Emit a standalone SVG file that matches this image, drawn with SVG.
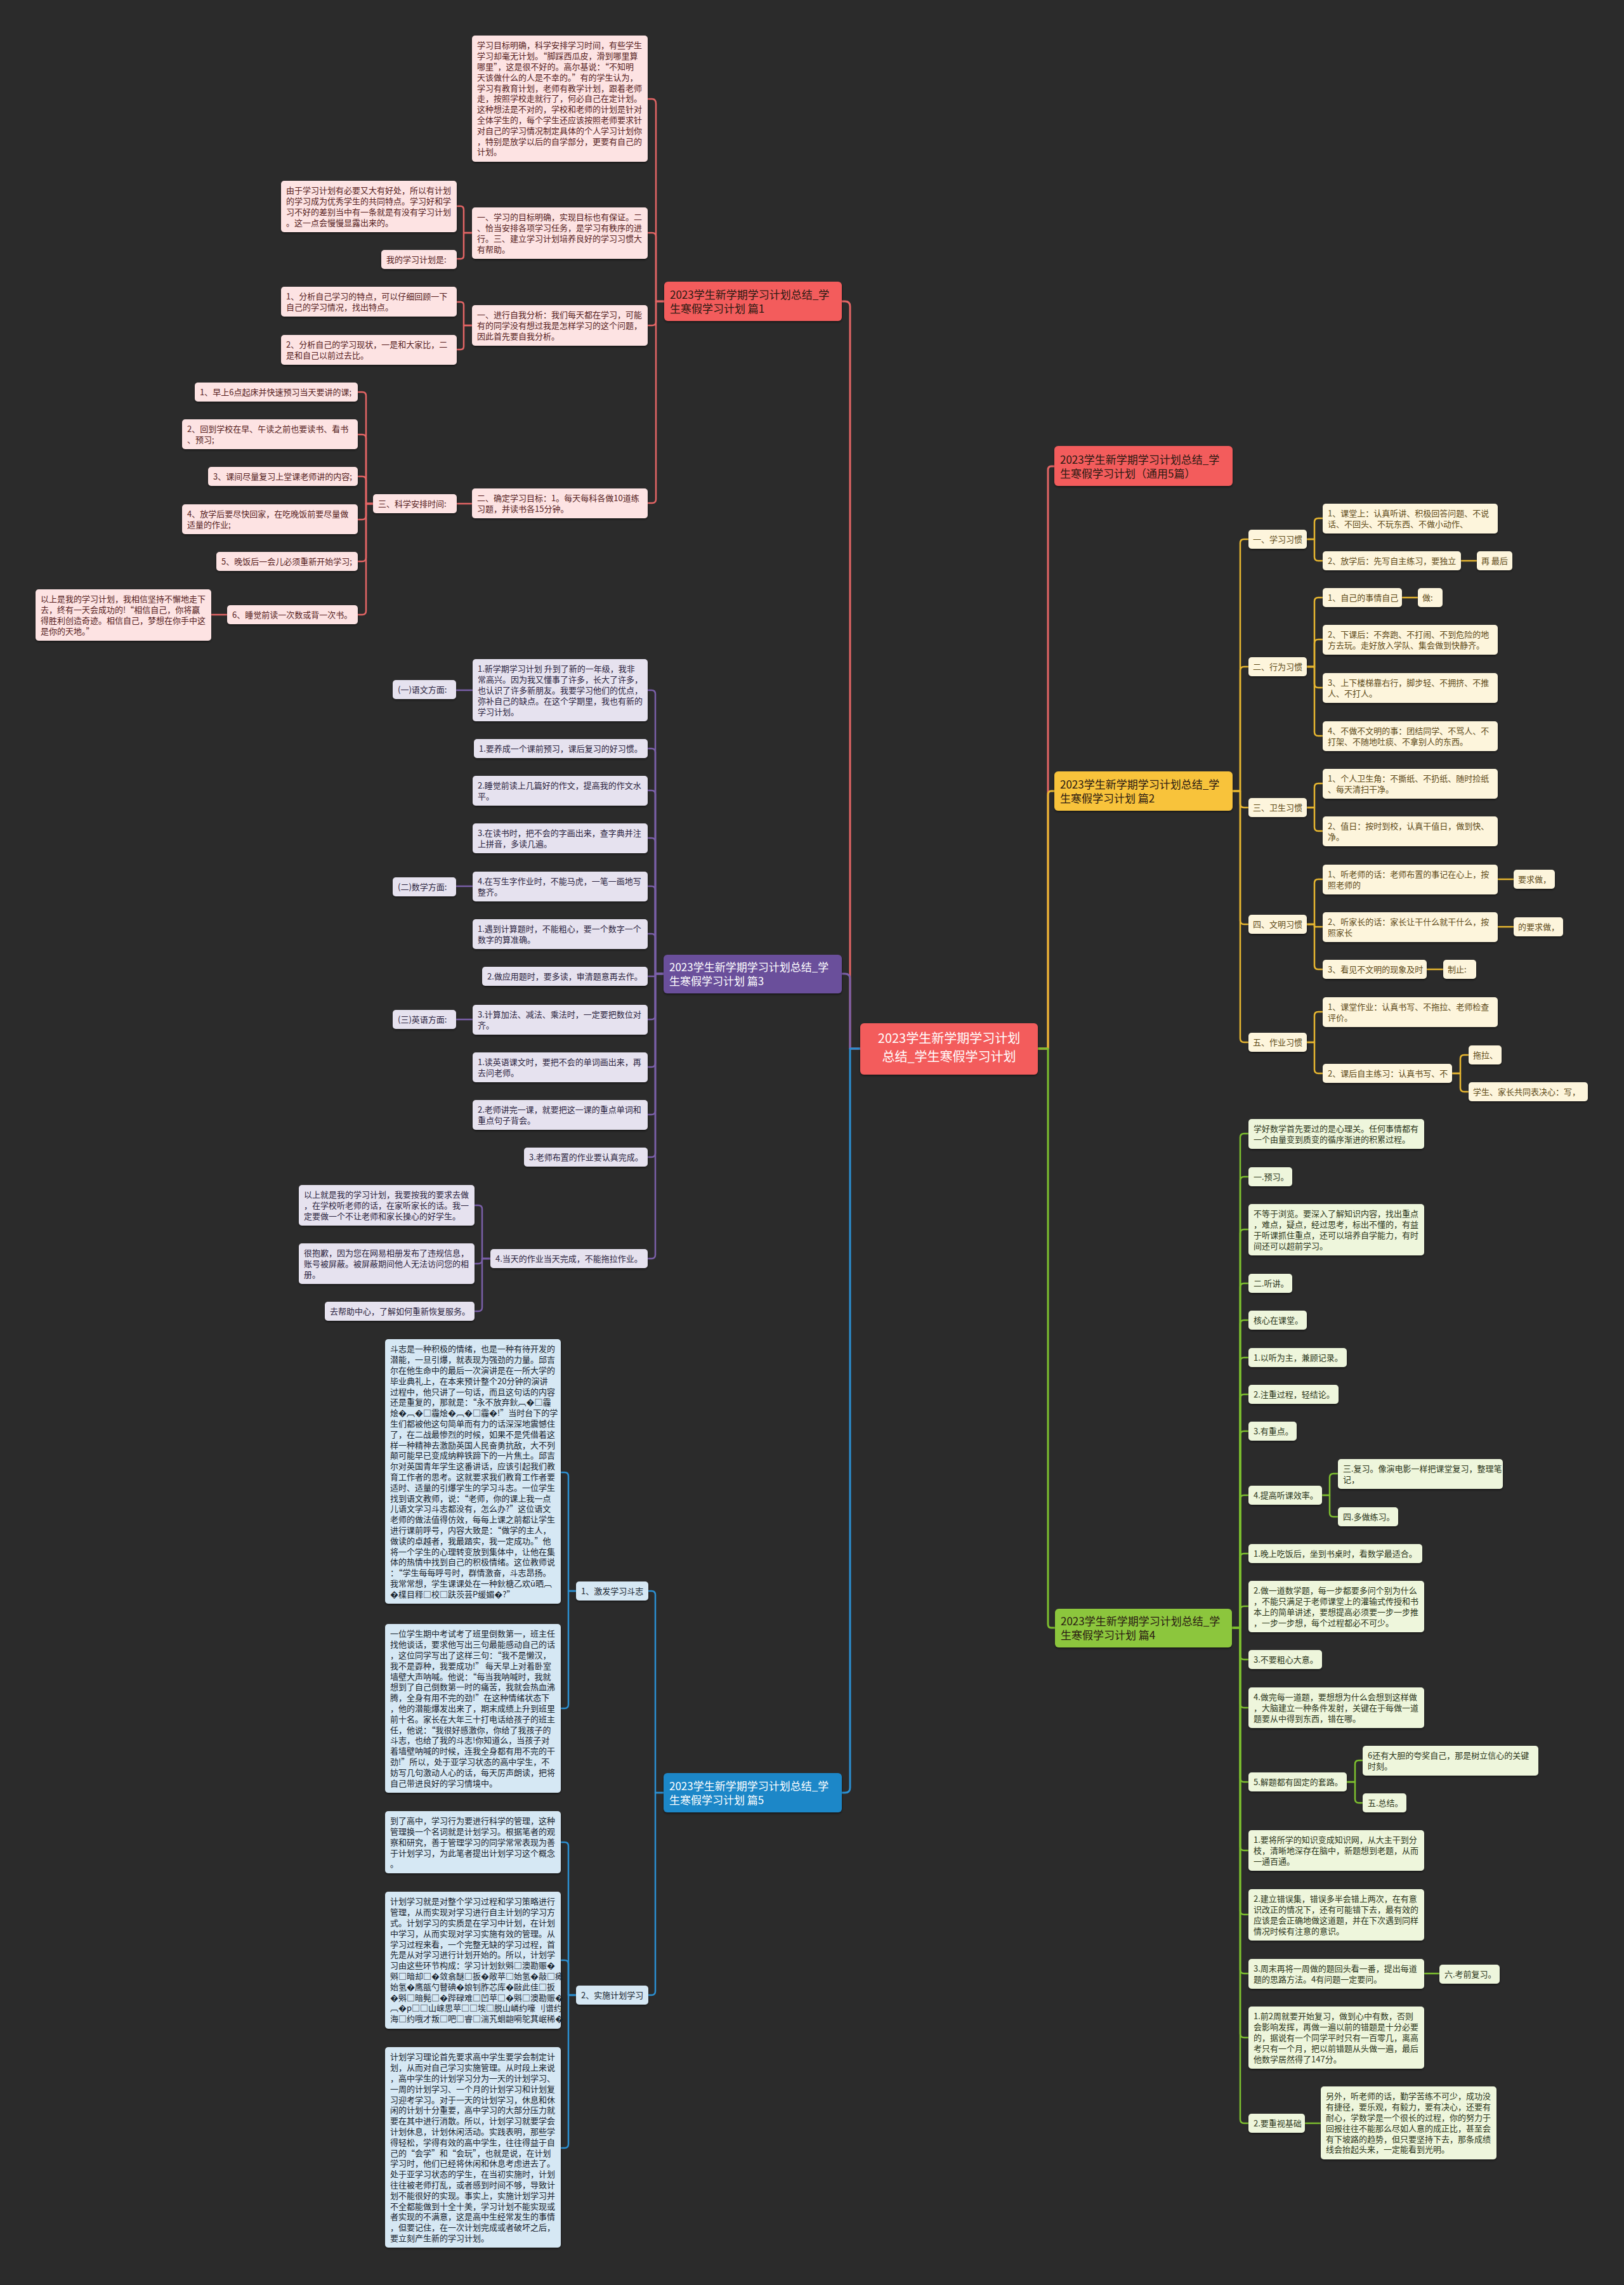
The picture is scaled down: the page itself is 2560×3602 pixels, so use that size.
<svg xmlns="http://www.w3.org/2000/svg" width="2560" height="3602" viewBox="0 0 2560 3602">
<defs>
<filter id="sh" x="-5%" y="-10%" width="110%" height="130%"><feDropShadow dx="0" dy="2" stdDeviation="1.5" flood-color="#000" flood-opacity="0.45"/></filter>
<style>
text{font-family:"Noto Sans CJK SC","Noto Sans",sans-serif;font-size:13px}
rect{filter:url(#sh)}
.bg{filter:none}
.fr{fill:#fde3e3}.tr{fill:#561d1d}
.fp{fill:#e6e2ef}.tp{fill:#2b2440}
.fb{fill:#d6e8f4}.tb{fill:#16232e}
.fy{fill:#fdf5dc}.ty{fill:#5e4a18}
.fg{fill:#eef6dc}.tg{fill:#2b3519}
.br{fill:#f35b5b}.bp{fill:#6b4f9b}.bb{fill:#1f87c8}.by{fill:#f8c33b}.bgn{fill:#8cc63e}
.bt{font-size:17px}.dk{fill:#2a1a12}.wt{fill:#ffffff}
.ct{font-size:20px;fill:#ffffff;text-anchor:middle}
.k{fill:none;stroke-width:2.5;stroke-linecap:round;stroke-linejoin:round}
.kr{stroke:#e36565}.kp{stroke:#7a5fa8}.kb{stroke:#2b8fd1}.ky{stroke:#e8b730}.kg{stroke:#7dbf2f}
.m{stroke-width:3}
</style>
</defs>
<rect class="bg" x="0" y="0" width="2560" height="3602" fill="#2b2b2b"/>

<g id="connectors">
<g class="k kr">
<path class="m" d="M1356 1653 H1340 V483 Q1340 475 1332 475 H1327"/>
<path class="m" d="M1636 1653 H1652 V741 Q1652 735 1657 735 H1662"/>
<path d="M1047 475 H1034 V164 Q1034 156 1028 156 H1021"/>
<path d="M1047 475 H1034 V373 Q1034 367 1028 367 H1021"/>
<path d="M1047 475 H1034 V507 Q1034 513 1028 513 H1021"/>
<path d="M1047 475 H1034 V787 Q1034 793 1028 793 H1021"/>
<path d="M744 367 H731 V331 Q731 325 726 325 H720"/>
<path d="M744 367 H731 V403 Q731 408 726 408 H720"/>
<path d="M744 513 H731 V481 Q731 476 726 476 H720"/>
<path d="M744 513 H731 V546 Q731 551 726 551 H720"/>
<path d="M744 794 H720"/>
<path d="M588 794 H577 V624 Q577 618 571 618 H564"/>
<path d="M588 794 H577 V691 Q577 685 571 685 H564"/>
<path d="M588 794 H577 V757 Q577 751 571 751 H564"/>
<path d="M588 794 H577 V813 Q577 819 571 819 H564"/>
<path d="M588 794 H577 V879 Q577 885 571 885 H564"/>
<path d="M588 794 H577 V963 Q577 969 571 969 H564"/>
<path d="M358 969 H333"/>
</g>
<g class="k kp">
<path class="m" d="M1356 1653 H1340 V1543 Q1340 1535 1332 1535 H1327"/>
<path d="M1046 1535 H1033 V1094 Q1033 1088 1027 1088 H1021"/>
<path d="M1046 1535 H1033 V1186 Q1033 1180 1027 1180 H1021"/>
<path d="M1046 1535 H1033 V1252 Q1033 1246 1027 1246 H1021"/>
<path d="M1046 1535 H1033 V1327 Q1033 1321 1027 1321 H1021"/>
<path d="M1046 1535 H1033 V1403 Q1033 1397 1027 1397 H1021"/>
<path d="M1046 1535 H1033 V1478 Q1033 1472 1027 1472 H1021"/>
<path d="M1046 1535 H1033 V1539 H1021"/>
<path d="M1046 1535 H1033 V1601 Q1033 1607 1027 1607 H1021"/>
<path d="M1046 1535 H1033 V1676 Q1033 1682 1027 1682 H1021"/>
<path d="M1046 1535 H1033 V1751 Q1033 1757 1027 1757 H1021"/>
<path d="M1046 1535 H1033 V1818 Q1033 1824 1027 1824 H1021"/>
<path d="M1046 1535 H1033 V1978 Q1033 1984 1027 1984 H1021"/>
<path d="M745 1088 H719"/>
<path d="M745 1397 H719"/>
<path d="M745 1607 H719"/>
<path d="M773 1984 H760 V1906 Q760 1900 754 1900 H748"/>
<path d="M773 1984 H760 V1986 Q760 1992 754 1992 H748"/>
<path d="M773 1984 H760 V2061 Q760 2067 754 2067 H748"/>
</g>
<g class="k kb">
<path class="m" d="M1356 1653 H1340 V2818 Q1340 2826 1332 2826 H1327"/>
<path d="M1046 2826 H1033 V2514 Q1033 2508 1027 2508 H1022"/>
<path d="M1046 2826 H1033 V3139 Q1033 3145 1027 3145 H1022"/>
<path d="M908 2508 H896 V2327 Q896 2321 890 2321 H884"/>
<path d="M908 2508 H896 V2687 Q896 2693 890 2693 H884"/>
<path d="M908 3145 H896 V2910 Q896 2904 890 2904 H884"/>
<path d="M908 3145 H896 V3096 Q896 3090 890 3090 H884"/>
<path d="M908 3145 H896 V3380 Q896 3386 890 3386 H884"/>
</g>
<g class="k ky">
<path class="m" d="M1636 1653 H1652 V1253 Q1652 1247 1657 1247 H1662"/>
<path d="M1943 1247 H1955 V856 Q1955 850 1961 850 H1968"/>
<path d="M1943 1247 H1955 V1057 Q1955 1051 1961 1051 H1968"/>
<path d="M1943 1247 H1955 V1267 Q1955 1273 1961 1273 H1968"/>
<path d="M1943 1247 H1955 V1451 Q1955 1457 1961 1457 H1968"/>
<path d="M1943 1247 H1955 V1637 Q1955 1643 1961 1643 H1968"/>
<path d="M2060 850 H2072 V823 Q2072 817 2078 817 H2085"/>
<path d="M2060 850 H2072 V878 Q2072 884 2078 884 H2085"/>
<path d="M2303 884 H2328"/>
<path d="M2060 1051 H2072 V948 Q2072 942 2078 942 H2085"/>
<path d="M2060 1051 H2072 V1014 Q2072 1008 2078 1008 H2085"/>
<path d="M2060 1051 H2072 V1078 Q2072 1084 2078 1084 H2085"/>
<path d="M2060 1051 H2072 V1154 Q2072 1160 2078 1160 H2085"/>
<path d="M2210 942 H2235"/>
<path d="M2060 1273 H2072 V1241 Q2072 1235 2078 1235 H2085"/>
<path d="M2060 1273 H2072 V1304 Q2072 1310 2078 1310 H2085"/>
<path d="M2060 1457 H2072 V1392 Q2072 1386 2078 1386 H2085"/>
<path d="M2060 1457 H2072 V1461 H2085"/>
<path d="M2060 1457 H2072 V1522 Q2072 1528 2078 1528 H2085"/>
<path d="M2361 1386 H2386"/>
<path d="M2361 1461 H2386"/>
<path d="M2249 1528 H2275"/>
<path d="M2060 1643 H2072 V1601 Q2072 1595 2078 1595 H2085"/>
<path d="M2060 1643 H2072 V1686 Q2072 1692 2078 1692 H2085"/>
<path d="M2289 1692 H2302 V1669 Q2302 1663 2308 1663 H2315"/>
<path d="M2289 1692 H2302 V1715 Q2302 1721 2308 1721 H2315"/>
</g>
<g class="k kg">
<path class="m" d="M1636 1653 H1652 V2560 Q1652 2566 1657 2566 H1663"/>
<path d="M1942 2566 H1955 V1793 Q1955 1787 1961 1787 H1968"/>
<path d="M1942 2566 H1955 V1861 Q1955 1855 1961 1855 H1968"/>
<path d="M1942 2566 H1955 V1944 Q1955 1938 1961 1938 H1968"/>
<path d="M1942 2566 H1955 V2029 Q1955 2023 1961 2023 H1968"/>
<path d="M1942 2566 H1955 V2087 Q1955 2081 1961 2081 H1968"/>
<path d="M1942 2566 H1955 V2146 Q1955 2140 1961 2140 H1968"/>
<path d="M1942 2566 H1955 V2204 Q1955 2198 1961 2198 H1968"/>
<path d="M1942 2566 H1955 V2262 Q1955 2256 1961 2256 H1968"/>
<path d="M1942 2566 H1955 V2363 Q1955 2357 1961 2357 H1968"/>
<path d="M1942 2566 H1955 V2455 Q1955 2449 1961 2449 H1968"/>
<path d="M1942 2566 H1955 V2538 Q1955 2532 1961 2532 H1968"/>
<path d="M1942 2566 H1955 V2610 Q1955 2616 1961 2616 H1968"/>
<path d="M1942 2566 H1955 V2686 Q1955 2692 1961 2692 H1968"/>
<path d="M1942 2566 H1955 V2803 Q1955 2809 1961 2809 H1968"/>
<path d="M1942 2566 H1955 V2911 Q1955 2917 1961 2917 H1968"/>
<path d="M1942 2566 H1955 V3012 Q1955 3018 1961 3018 H1968"/>
<path d="M1942 2566 H1955 V3105 Q1955 3111 1961 3111 H1968"/>
<path d="M1942 2566 H1955 V3206 Q1955 3212 1961 3212 H1968"/>
<path d="M1942 2566 H1955 V3341 Q1955 3347 1961 3347 H1968"/>
<path d="M2084 2357 H2096 V2329 Q2096 2323 2102 2323 H2109"/>
<path d="M2084 2357 H2096 V2385 Q2096 2391 2102 2391 H2109"/>
<path d="M2123 2809 H2136 V2781 Q2136 2775 2142 2775 H2148"/>
<path d="M2123 2809 H2136 V2836 Q2136 2842 2142 2842 H2148"/>
<path d="M2245 3111 H2269"/>
<path d="M2057 3347 H2082"/>
</g>
</g>

<g id="center"><rect x="1356" y="1613" width="280" height="81" rx="6" class="br"/>
<text class="ct"><tspan x="1496" y="1644">2023学生新学期学习计划</tspan><tspan x="1496" y="1673">总结_学生寒假学习计划</tspan></text></g>

<!-- Branch 1 -->
<g id="b1"><rect x="1047" y="444" width="280" height="62" rx="6" class="br"/>
<text class="bt dk"><tspan x="1056" y="471">2023学生新学期学习计划总结_学</tspan><tspan x="1056" y="493">生寒假学习计划 篇1</tspan></text></g>
<g id="b1a"><rect x="744" y="56" width="277" height="199" rx="5" class="fr"/>
<text class="tr"><tspan x="752" y="76.4">学习目标明确，科学安排学习时间，有些学生</tspan><tspan x="752" dy="16.8">学习却毫无计划。“脚踩西瓜皮，滑到哪里算</tspan><tspan x="752" dy="16.8">哪里”，这是很不好的。高尔基说：“不知明</tspan><tspan x="752" dy="16.8">天该做什么的人是不幸的。”有的学生认为，</tspan><tspan x="752" dy="16.8">学习有教育计划，老师有教学计划，跟着老师</tspan><tspan x="752" dy="16.8">走，按照学校走就行了，何必自己在定计划。</tspan><tspan x="752" dy="16.8">这种想法是不对的，学校和老师的计划是针对</tspan><tspan x="752" dy="16.8">全体学生的，每个学生还应该按照老师要求针</tspan><tspan x="752" dy="16.8">对自己的学习情况制定具体的个人学习计划你</tspan><tspan x="752" dy="16.8">，特别是放学以后的自学部分，更要有自己的</tspan><tspan x="752" dy="16.8">计划。</tspan></text></g>
<g id="b1b"><rect x="744" y="327" width="277" height="81" rx="5" class="fr"/>
<text class="tr"><tspan x="752" y="347.4">一、学习的目标明确，实现目标也有保证。二</tspan><tspan x="752" dy="16.8">、恰当安排各项学习任务，是学习有秩序的进</tspan><tspan x="752" dy="16.8">行。三、建立学习计划培养良好的学习习惯大</tspan><tspan x="752" dy="16.8">有帮助。</tspan></text></g>
<g id="b1b1"><rect x="443" y="285" width="277" height="81" rx="5" class="fr"/>
<text class="tr"><tspan x="451" y="305.4">由于学习计划有必要又大有好处，所以有计划</tspan><tspan x="451" dy="16.8">的学习成为优秀学生的共同特点。学习好和学</tspan><tspan x="451" dy="16.8">习不好的差别当中有一条就是有没有学习计划</tspan><tspan x="451" dy="16.8">。这一点会慢慢显露出来的。</tspan></text></g>
<g id="b1b2"><rect x="601" y="394" width="119" height="30" rx="5" class="fr"/>
<text class="tr" x="609" y="414.4">我的学习计划是:</text></g>
<g id="b1c"><rect x="744" y="481" width="277" height="64" rx="5" class="fr"/>
<text class="tr"><tspan x="752" y="501.4">一、进行自我分析：我们每天都在学习，可能</tspan><tspan x="752" dy="16.8">有的同学没有想过我是怎样学习的这个问题，</tspan><tspan x="752" dy="16.8">因此首先要自我分析。</tspan></text></g>
<g id="b1c1"><rect x="443" y="452" width="277" height="47" rx="5" class="fr"/>
<text class="tr"><tspan x="451" y="472.4">1、分析自己学习的特点，可以仔细回顾一下</tspan><tspan x="451" dy="16.8">自己的学习情况，找出特点。</tspan></text></g>
<g id="b1c2"><rect x="443" y="528" width="277" height="47" rx="5" class="fr"/>
<text class="tr"><tspan x="451" y="548.4">2、分析自己的学习现状，一是和大家比，二</tspan><tspan x="451" dy="16.8">是和自己以前过去比。</tspan></text></g>
<g id="b1d"><rect x="744" y="770" width="277" height="47" rx="5" class="fr"/>
<text class="tr"><tspan x="752" y="790.4">二、确定学习目标：1。每天每科各做10道练</tspan><tspan x="752" dy="16.8">习题，并读书各15分钟。</tspan></text></g>
<g id="b1d1"><rect x="588" y="779" width="132" height="30" rx="5" class="fr"/>
<text class="tr" x="596" y="799.4">三、科学安排时间:</text></g>
<g id="b1t1"><rect x="307" y="603" width="257" height="30" rx="5" class="fr"/>
<text class="tr" x="315" y="623.4">1、早上6点起床并快速预习当天要讲的课;</text></g>
<g id="b1t2"><rect x="287" y="661" width="277" height="47" rx="5" class="fr"/>
<text class="tr"><tspan x="295" y="681.4">2、回到学校在早、午读之前也要读书、看书</tspan><tspan x="295" dy="16.8">、预习;</tspan></text></g>
<g id="b1t3"><rect x="328" y="736" width="236" height="30" rx="5" class="fr"/>
<text class="tr" x="336" y="756.4">3、课间尽量复习上堂课老师讲的内容;</text></g>
<g id="b1t4"><rect x="287" y="795" width="277" height="47" rx="5" class="fr"/>
<text class="tr"><tspan x="295" y="815.4">4、放学后要尽快回家，在吃晚饭前要尽量做</tspan><tspan x="295" dy="16.8">适量的作业;</tspan></text></g>
<g id="b1t5"><rect x="341" y="870" width="223" height="30" rx="5" class="fr"/>
<text class="tr" x="349" y="890.4">5、晚饭后一会儿必须重新开始学习;</text></g>
<g id="b1t6"><rect x="358" y="954" width="206" height="30" rx="5" class="fr"/>
<text class="tr" x="366" y="974.4">6、睡觉前读一次数或背一次书。</text></g>
<g id="b1t6a"><rect x="56" y="929" width="277" height="81" rx="5" class="fr"/>
<text class="tr"><tspan x="64" y="949.4">以上是我的学习计划，我相信坚持不懈地走下</tspan><tspan x="64" dy="16.8">去，终有一天会成功的!“相信自己，你将赢</tspan><tspan x="64" dy="16.8">得胜利创造奇迹。相信自己，梦想在你手中这</tspan><tspan x="64" dy="16.8">是你的天地。”</tspan></text></g>

<!-- Branch 3 -->
<g id="b3"><rect x="1046" y="1505" width="281" height="61" rx="6" class="bp"/>
<text class="bt wt"><tspan x="1055" y="1531">2023学生新学期学习计划总结_学</tspan><tspan x="1055" y="1553">生寒假学习计划 篇3</tspan></text></g>
<g id="b3a"><rect x="745" y="1039" width="276" height="98" rx="5" class="fp"/>
<text class="tp"><tspan x="753" y="1059.4">1.新学期学习计划 升到了新的一年级，我非</tspan><tspan x="753" dy="16.8">常高兴。因为我又懂事了许多，长大了许多，</tspan><tspan x="753" dy="16.8">也认识了许多新朋友。我要学习他们的优点，</tspan><tspan x="753" dy="16.8">弥补自己的缺点。在这个学期里，我也有新的</tspan><tspan x="753" dy="16.8">学习计划。</tspan></text></g>
<g id="b3al"><rect x="619" y="1072" width="100" height="30" rx="5" class="fp"/>
<text class="tp" x="627" y="1092.4">(一)语文方面:</text></g>
<g id="b3b"><rect x="747" y="1165" width="274" height="30" rx="5" class="fp"/>
<text class="tp" x="755" y="1185.4">1.要养成一个课前预习，课后复习的好习惯。</text></g>
<g id="b3c"><rect x="745" y="1223" width="276" height="47" rx="5" class="fp"/>
<text class="tp"><tspan x="753" y="1243.4">2.睡觉前读上几篇好的作文，提高我的作文水</tspan><tspan x="753" dy="16.8">平。</tspan></text></g>
<g id="b3d"><rect x="745" y="1298" width="276" height="47" rx="5" class="fp"/>
<text class="tp"><tspan x="753" y="1318.4">3.在读书时，把不会的字画出来，查字典并注</tspan><tspan x="753" dy="16.8">上拼音，多读几遍。</tspan></text></g>
<g id="b3e"><rect x="745" y="1374" width="276" height="47" rx="5" class="fp"/>
<text class="tp"><tspan x="753" y="1394.4">4.在写生字作业时，不能马虎，一笔一画地写</tspan><tspan x="753" dy="16.8">整齐。</tspan></text></g>
<g id="b3el"><rect x="619" y="1383" width="100" height="30" rx="5" class="fp"/>
<text class="tp" x="627" y="1403.4">(二)数学方面:</text></g>
<g id="b3f"><rect x="745" y="1449" width="276" height="47" rx="5" class="fp"/>
<text class="tp"><tspan x="753" y="1469.4">1.遇到计算题时，不能粗心，要一个数字一个</tspan><tspan x="753" dy="16.8">数字的算准确。</tspan></text></g>
<g id="b3g"><rect x="760" y="1524" width="261" height="30" rx="5" class="fp"/>
<text class="tp" x="768" y="1544.4">2.做应用题时，要多读，审清题意再去作。</text></g>
<g id="b3h"><rect x="745" y="1584" width="276" height="47" rx="5" class="fp"/>
<text class="tp"><tspan x="753" y="1604.4">3.计算加法、减法、乘法时，一定要把数位对</tspan><tspan x="753" dy="16.8">齐。</tspan></text></g>
<g id="b3hl"><rect x="619" y="1592" width="100" height="30" rx="5" class="fp"/>
<text class="tp" x="627" y="1612.4">(三)英语方面:</text></g>
<g id="b3i"><rect x="745" y="1659" width="276" height="47" rx="5" class="fp"/>
<text class="tp"><tspan x="753" y="1679.4">1.读英语课文时，要把不会的单词画出来，再</tspan><tspan x="753" dy="16.8">去问老师。</tspan></text></g>
<g id="b3j"><rect x="745" y="1734" width="276" height="47" rx="5" class="fp"/>
<text class="tp"><tspan x="753" y="1754.4">2.老师讲完一课，就要把这一课的重点单词和</tspan><tspan x="753" dy="16.8">重点句子背会。</tspan></text></g>
<g id="b3k"><rect x="826" y="1809" width="195" height="30" rx="5" class="fp"/>
<text class="tp" x="834" y="1829.4">3.老师布置的作业要认真完成。</text></g>
<g id="b3l"><rect x="773" y="1969" width="248" height="30" rx="5" class="fp"/>
<text class="tp" x="781" y="1989.4">4.当天的作业当天完成，不能拖拉作业。</text></g>
<g id="b3l1"><rect x="471" y="1868" width="277" height="64" rx="5" class="fp"/>
<text class="tp"><tspan x="479" y="1888.4">以上就是我的学习计划，我要按我的要求去做</tspan><tspan x="479" dy="16.8">，在学校听老师的话，在家听家长的话。我一</tspan><tspan x="479" dy="16.8">定要做一个不让老师和家长操心的好学生。</tspan></text></g>
<g id="b3l2"><rect x="471" y="1960" width="277" height="64" rx="5" class="fp"/>
<text class="tp"><tspan x="479" y="1980.4">很抱歉，因为您在网易相册发布了违规信息，</tspan><tspan x="479" dy="16.8">账号被屏蔽。被屏蔽期间他人无法访问您的相</tspan><tspan x="479" dy="16.8">册。</tspan></text></g>
<g id="b3l3"><rect x="512" y="2052" width="236" height="30" rx="5" class="fp"/>
<text class="tp" x="520" y="2072.4">去帮助中心，了解如何重新恢复服务。</text></g>

<!-- Branch 5 -->
<g id="b5"><rect x="1046" y="2795" width="281" height="62" rx="6" class="bb"/>
<text class="bt wt"><tspan x="1055" y="2822">2023学生新学期学习计划总结_学</tspan><tspan x="1055" y="2844">生寒假学习计划 篇5</tspan></text></g>
<g id="b5a"><rect x="908" y="2493" width="114" height="30" rx="5" class="fb"/>
<text class="tb" x="916" y="2513.4">1、激发学习斗志</text></g>
<g id="b5b"><rect x="908" y="3130" width="114" height="30" rx="5" class="fb"/>
<text class="tb" x="916" y="3150.4">2、实施计划学习</text></g>
<g id="b5a1"><rect x="607" y="2111" width="277" height="417" rx="5" class="fb"/>
<text class="tb"><tspan x="615" y="2131.4">斗志是一种积极的情绪，也是一种有待开发的</tspan><tspan x="615" dy="16.8">潜能，一旦引爆，就表现为强劲的力量。邱吉</tspan><tspan x="615" dy="16.8">尔在他生命中的最后一次演讲是在一所大学的</tspan><tspan x="615" dy="16.8">毕业典礼上，在本来预计整个20分钟的演讲</tspan><tspan x="615" dy="16.8">过程中，他只讲了一句话，而且这句话的内容</tspan><tspan x="615" dy="16.8">还是重复的，那就是：“永不放弃鈥︹�□霾</tspan><tspan x="615" dy="16.8">烩�︹�□霾烩�︹�□霾�!”当时台下的学</tspan><tspan x="615" dy="16.8">生们都被他这句简单而有力的话深深地震憾住</tspan><tspan x="615" dy="16.8">了，在二战最惨烈的时候，如果不是凭借着这</tspan><tspan x="615" dy="16.8">样一种精神去激励英国人民奋勇抗敌，大不列</tspan><tspan x="615" dy="16.8">颠可能早已变成纳粹铁蹄下的一片焦土。邱吉</tspan><tspan x="615" dy="16.8">尔对英国青年学生这番讲话，应该引起我们教</tspan><tspan x="615" dy="16.8">育工作者的思考。这就要求我们教育工作者要</tspan><tspan x="615" dy="16.8">适时、适量的引爆学生的学习斗志。一位学生</tspan><tspan x="615" dy="16.8">找到语文教师，说：“老师，你的课上我一点</tspan><tspan x="615" dy="16.8">儿语文学习斗志都没有，怎么办?”这位语文</tspan><tspan x="615" dy="16.8">老师的做法值得仿效，每每上课之前都让学生</tspan><tspan x="615" dy="16.8">进行课前呼号，内容大致是：“做学的主人，</tspan><tspan x="615" dy="16.8">做读的卓越者，我最踏实，我一定成功。”他</tspan><tspan x="615" dy="16.8">将一个学生的心理转变放到集体中，让他在集</tspan><tspan x="615" dy="16.8">体的热情中找到自己的积极情绪。这位教师说</tspan><tspan x="615" dy="16.8">：“学生每每呼号时，群情激奋，斗志昂扬。</tspan><tspan x="615" dy="16.8">我常常想，学生课课处在一种鈥榶乙欢ū晒︹</tspan><tspan x="615" dy="16.8">�檏目释□校□趺茨芸P缓媚�?”</tspan></text></g>
<g id="b5a2"><rect x="607" y="2560" width="277" height="266" rx="5" class="fb"/>
<text class="tb"><tspan x="615" y="2580.4">一位学生期中考试考了班里倒数第一，班主任</tspan><tspan x="615" dy="16.8">找他谈话，要求他写出三句最能感动自己的话</tspan><tspan x="615" dy="16.8">，这位同学写出了这样三句：“我不是懒汉，</tspan><tspan x="615" dy="16.8">我不是孬种，我要成功!” 每天早上对着卧室</tspan><tspan x="615" dy="16.8">墙壁大声呐喊。他说：“每当我呐喊时，我就</tspan><tspan x="615" dy="16.8">想到了自己倒数第一时的痛苦，我就会热血沸</tspan><tspan x="615" dy="16.8">腾，全身有用不完的劲!”在这种情绪状态下</tspan><tspan x="615" dy="16.8">，他的潜能爆发出来了，期末成绩上升到班里</tspan><tspan x="615" dy="16.8">前十名。家长在大年三十打电话给孩子的班主</tspan><tspan x="615" dy="16.8">任，他说：“我很好感激你，你给了我孩子的</tspan><tspan x="615" dy="16.8">斗志，也给了我的斗志!你知道么，当孩子对</tspan><tspan x="615" dy="16.8">着墙壁呐喊的时候，连我全身都有用不完的干</tspan><tspan x="615" dy="16.8">劲!”所以，处于亚学习状态的高中学生，不</tspan><tspan x="615" dy="16.8">妨写几句激动人心的话，每天厉声朗读，把将</tspan><tspan x="615" dy="16.8">自己带进良好的学习情境中。</tspan></text></g>
<g id="b5b1"><rect x="607" y="2855" width="277" height="98" rx="5" class="fb"/>
<text class="tb"><tspan x="615" y="2875.4">到了高中，学习行为要进行科学的管理，这种</tspan><tspan x="615" dy="16.8">管理换一个名词就是计划学习。根据笔者的观</tspan><tspan x="615" dy="16.8">察和研究，善于管理学习的同学常常表现为善</tspan><tspan x="615" dy="16.8">于计划学习，为此笔者提出计划学习这个概念</tspan><tspan x="615" dy="16.8">。</tspan></text></g>
<g id="b5b2"><rect x="607" y="2982" width="277" height="216" rx="5" class="fb"/>
<text class="tb"><tspan x="615" y="3002.4">计划学习就是对整个学习过程和学习策略进行</tspan><tspan x="615" dy="16.8">管理，从而实现对学习进行自主计划的学习方</tspan><tspan x="615" dy="16.8">式。计划学习的实质是在学习中计划，在计划</tspan><tspan x="615" dy="16.8">中学习，从而实现对学习实施有效的管理。从</tspan><tspan x="615" dy="16.8">学习过程来看，一个完整无缺的学习过程，首</tspan><tspan x="615" dy="16.8">先是从对学习进行计划开始的。所以，计划学</tspan><tspan x="615" dy="16.8">习由这些环节构成：学习计划鈥斞□澳勘赈�</tspan><tspan x="615" dy="16.8">斞□暗却□�敛翕醚□扳�敞苹□始氢�敲□瘫</tspan><tspan x="615" dy="16.8">始氢�鹰瓿勺瞽碘�娘钊胙芯库�敺此佳□扳</tspan><tspan x="615" dy="16.8">�斞□暗髡□�跸碌难□凹苹□�斞□澳勘赈�</tspan><tspan x="615" dy="16.8">︹�p□□山崃思苹□□埃□脱山嶙约嚎 刂谱约</tspan><tspan x="615" dy="16.8">海□约哦才叛□吧□睿□湍艽蛔龅嗬鸵萁岷稀�</tspan></text></g>
<g id="b5b3"><rect x="607" y="3227" width="277" height="316" rx="5" class="fb"/>
<text class="tb"><tspan x="615" y="3247.4">计划学习理论首先要求高中学生要学会制定计</tspan><tspan x="615" dy="16.8">划，从而对自己学习实施管理。从时段上来说</tspan><tspan x="615" dy="16.8">，高中学生的计划学习分为一天的计划学习、</tspan><tspan x="615" dy="16.8">一周的计划学习、一个月的计划学习和计划复</tspan><tspan x="615" dy="16.8">习迎考学习。对于一天的计划学习，休息和休</tspan><tspan x="615" dy="16.8">闲的计划十分重要，高中学习的大部分压力就</tspan><tspan x="615" dy="16.8">要在其中进行消散。所以，计划学习就要学会</tspan><tspan x="615" dy="16.8">计划休息，计划休闲活动。实践表明，那些学</tspan><tspan x="615" dy="16.8">得轻松，学得有效的高中学生，往往得益于自</tspan><tspan x="615" dy="16.8">己的“会学”和“会玩”，也就是说，在计划</tspan><tspan x="615" dy="16.8">学习时，他们已经将休闲和休息考虑进去了。</tspan><tspan x="615" dy="16.8">处于亚学习状态的学生，在当初实施时，计划</tspan><tspan x="615" dy="16.8">往往被老师打乱，或者感到时间不够，导致计</tspan><tspan x="615" dy="16.8">划不能很好的实现。事实上，实施计划学习并</tspan><tspan x="615" dy="16.8">不全都能做到十全十美，学习计划不能实现或</tspan><tspan x="615" dy="16.8">者实现的不满意，这是高中生经常发生的事情</tspan><tspan x="615" dy="16.8">，但要记住，在一次计划完成或者破坏之后，</tspan><tspan x="615" dy="16.8">要立刻产生新的学习计划。</tspan></text></g>

<!-- Right: 通用5篇 -->
<g id="b0"><rect x="1662" y="703" width="281" height="63" rx="6" class="br"/>
<text class="bt dk"><tspan x="1671" y="731">2023学生新学期学习计划总结_学</tspan><tspan x="1671" y="753">生寒假学习计划（通用5篇）</tspan></text></g>

<!-- Branch 2 -->
<g id="b2"><rect x="1662" y="1216" width="281" height="62" rx="6" class="by"/>
<text class="bt dk"><tspan x="1671" y="1243">2023学生新学期学习计划总结_学</tspan><tspan x="1671" y="1265">生寒假学习计划 篇2</tspan></text></g>
<g id="b2a"><rect x="1968" y="835" width="92" height="30" rx="5" class="fy"/><text class="ty" x="1975" y="855.4">一、学习习惯</text></g>
<g id="b2b"><rect x="1968" y="1036" width="92" height="30" rx="5" class="fy"/><text class="ty" x="1975" y="1056.4">二、行为习惯</text></g>
<g id="b2c"><rect x="1968" y="1258" width="92" height="30" rx="5" class="fy"/><text class="ty" x="1975" y="1278.4">三、卫生习惯</text></g>
<g id="b2d"><rect x="1968" y="1442" width="92" height="30" rx="5" class="fy"/><text class="ty" x="1975" y="1462.4">四、文明习惯</text></g>
<g id="b2e"><rect x="1968" y="1628" width="92" height="30" rx="5" class="fy"/><text class="ty" x="1975" y="1648.4">五、作业习惯</text></g>
<g id="b2a1"><rect x="2085" y="794" width="276" height="47" rx="5" class="fy"/>
<text class="ty"><tspan x="2093" y="814.4">1、课堂上：认真听讲、积极回答问题、不说</tspan><tspan x="2093" dy="16.8">话、不回头、不玩东西、不做小动作、</tspan></text></g>
<g id="b2a2"><rect x="2085" y="869" width="218" height="30" rx="5" class="fy"/><text class="ty" x="2093" y="889.4">2、放学后：先写自主练习，要独立</text></g>
<g id="b2a2a"><rect x="2328" y="869" width="56" height="30" rx="5" class="fy"/><text class="ty" x="2335" y="889.4">再 最后</text></g>
<g id="b2b1"><rect x="2085" y="927" width="125" height="30" rx="5" class="fy"/><text class="ty" x="2093" y="947.4">1、自己的事情自己</text></g>
<g id="b2b1a"><rect x="2235" y="927" width="39" height="30" rx="5" class="fy"/><text class="ty" x="2242" y="947.4">做:</text></g>
<g id="b2b2"><rect x="2085" y="985" width="276" height="47" rx="5" class="fy"/>
<text class="ty"><tspan x="2093" y="1005.4">2、下课后：不奔跑、不打闹、不到危险的地</tspan><tspan x="2093" dy="16.8">方去玩。走好放入学队、集会做到快静齐。</tspan></text></g>
<g id="b2b3"><rect x="2085" y="1061" width="276" height="47" rx="5" class="fy"/>
<text class="ty"><tspan x="2093" y="1081.4">3、上下楼梯靠右行，脚步轻、不拥挤、不推</tspan><tspan x="2093" dy="16.8">人、不打人。</tspan></text></g>
<g id="b2b4"><rect x="2085" y="1137" width="276" height="47" rx="5" class="fy"/>
<text class="ty"><tspan x="2093" y="1157.4">4、不做不文明的事：团结同学、不骂人、不</tspan><tspan x="2093" dy="16.8">打架、不随地吐痰、不拿别人的东西。</tspan></text></g>
<g id="b2c1"><rect x="2085" y="1212" width="276" height="47" rx="5" class="fy"/>
<text class="ty"><tspan x="2093" y="1232.4">1、个人卫生角：不撕纸、不扔纸、随时捡纸</tspan><tspan x="2093" dy="16.8">、每天清扫干净。</tspan></text></g>
<g id="b2c2"><rect x="2085" y="1287" width="276" height="47" rx="5" class="fy"/>
<text class="ty"><tspan x="2093" y="1307.4">2、值日：按时到校，认真干值日，做到快、</tspan><tspan x="2093" dy="16.8">净。</tspan></text></g>
<g id="b2d1"><rect x="2085" y="1363" width="276" height="47" rx="5" class="fy"/>
<text class="ty"><tspan x="2093" y="1383.4">1、听老师的话：老师布置的事记在心上，按</tspan><tspan x="2093" dy="16.8">照老师的</tspan></text></g>
<g id="b2d1a"><rect x="2386" y="1371" width="65" height="30" rx="5" class="fy"/><text class="ty" x="2393" y="1391.4">要求做，</text></g>
<g id="b2d2"><rect x="2085" y="1438" width="276" height="47" rx="5" class="fy"/>
<text class="ty"><tspan x="2093" y="1458.4">2、听家长的话：家长让干什么就干什么，按</tspan><tspan x="2093" dy="16.8">照家长</tspan></text></g>
<g id="b2d2a"><rect x="2386" y="1446" width="78" height="30" rx="5" class="fy"/><text class="ty" x="2393" y="1466.4">的要求做，</text></g>
<g id="b2d3"><rect x="2085" y="1513" width="164" height="30" rx="5" class="fy"/><text class="ty" x="2093" y="1533.4">3、看见不文明的现象及时</text></g>
<g id="b2d3a"><rect x="2275" y="1513" width="52" height="30" rx="5" class="fy"/><text class="ty" x="2282" y="1533.4">制止:</text></g>
<g id="b2e1"><rect x="2085" y="1572" width="276" height="47" rx="5" class="fy"/>
<text class="ty"><tspan x="2093" y="1592.4">1、课堂作业：认真书写、不拖拉、老师检查</tspan><tspan x="2093" dy="16.8">评价。</tspan></text></g>
<g id="b2e2"><rect x="2085" y="1677" width="204" height="30" rx="5" class="fy"/><text class="ty" x="2093" y="1697.4">2、课后自主练习：认真书写、不</text></g>
<g id="b2e2a"><rect x="2315" y="1648" width="52" height="30" rx="5" class="fy"/><text class="ty" x="2322" y="1668.4">拖拉、</text></g>
<g id="b2e2b"><rect x="2315" y="1706" width="188" height="30" rx="5" class="fy"/><text class="ty" x="2322" y="1726.4">学生、家长共同表决心：写，</text></g>

<!-- Branch 4 -->
<g id="b4"><rect x="1663" y="2536" width="279" height="61" rx="6" class="bgn"/>
<text class="bt dk"><tspan x="1672" y="2562">2023学生新学期学习计划总结_学</tspan><tspan x="1672" y="2584">生寒假学习计划 篇4</tspan></text></g>
<g id="g1"><rect x="1968" y="1764" width="277" height="47" rx="5" class="fg"/>
<text class="tg"><tspan x="1976" y="1784.4">学好数学首先要过的是心理关。任何事情都有</tspan><tspan x="1976" dy="16.8">一个由量变到质变的循序渐进的积累过程。</tspan></text></g>
<g id="g2"><rect x="1968" y="1840" width="69" height="30" rx="5" class="fg"/><text class="tg" x="1976" y="1860.4">一.预习。</text></g>
<g id="g3"><rect x="1968" y="1898" width="277" height="81" rx="5" class="fg"/>
<text class="tg"><tspan x="1976" y="1918.4">不等于浏览。要深入了解知识内容，找出重点</tspan><tspan x="1976" dy="16.8">，难点，疑点，经过思考，标出不懂的，有益</tspan><tspan x="1976" dy="16.8">于听课抓住重点，还可以培养自学能力，有时</tspan><tspan x="1976" dy="16.8">间还可以超前学习。</tspan></text></g>
<g id="g4"><rect x="1968" y="2008" width="69" height="30" rx="5" class="fg"/><text class="tg" x="1976" y="2028.4">二.听讲。</text></g>
<g id="g5"><rect x="1968" y="2066" width="92" height="30" rx="5" class="fg"/><text class="tg" x="1976" y="2086.4">核心在课堂。</text></g>
<g id="g6"><rect x="1968" y="2125" width="155" height="30" rx="5" class="fg"/><text class="tg" x="1976" y="2145.4">1.以听为主，兼顾记录。</text></g>
<g id="g7"><rect x="1968" y="2183" width="142" height="30" rx="5" class="fg"/><text class="tg" x="1976" y="2203.4">2.注重过程，轻结论。</text></g>
<g id="g8"><rect x="1968" y="2241" width="76" height="30" rx="5" class="fg"/><text class="tg" x="1976" y="2261.4">3.有重点。</text></g>
<g id="g9"><rect x="1968" y="2342" width="116" height="30" rx="5" class="fg"/><text class="tg" x="1976" y="2362.4">4.提高听课效率。</text></g>
<g id="g9a"><rect x="2109" y="2300" width="260" height="47" rx="5" class="fg"/>
<text class="tg"><tspan x="2117" y="2320.4">三.复习。像演电影一样把课堂复习，整理笔</tspan><tspan x="2117" dy="16.8">记，</tspan></text></g>
<g id="g9b"><rect x="2109" y="2376" width="95" height="30" rx="5" class="fg"/><text class="tg" x="2117" y="2396.4">四.多做练习。</text></g>
<g id="g10"><rect x="1968" y="2434" width="274" height="30" rx="5" class="fg"/><text class="tg" x="1976" y="2454.4">1.晚上吃饭后，坐到书桌时，看数学最适合。</text></g>
<g id="g11"><rect x="1968" y="2492" width="277" height="81" rx="5" class="fg"/>
<text class="tg"><tspan x="1976" y="2512.4">2.做一道数学题，每一步都要多问个别为什么</tspan><tspan x="1976" dy="16.8">，不能只满足于老师课堂上的灌输式传授和书</tspan><tspan x="1976" dy="16.8">本上的简单讲述，要想提高必须要一步一步推</tspan><tspan x="1976" dy="16.8">，一步一步想，每个过程都必不可少。</tspan></text></g>
<g id="g12"><rect x="1968" y="2601" width="116" height="30" rx="5" class="fg"/><text class="tg" x="1976" y="2621.4">3.不要粗心大意。</text></g>
<g id="g13"><rect x="1968" y="2660" width="277" height="64" rx="5" class="fg"/>
<text class="tg"><tspan x="1976" y="2680.4">4.做完每一道题，要想想为什么会想到这样做</tspan><tspan x="1976" dy="16.8">，大脑建立一种条件发射，关键在于每做一道</tspan><tspan x="1976" dy="16.8">题要从中得到东西，错在哪。</tspan></text></g>
<g id="g14"><rect x="1968" y="2794" width="155" height="30" rx="5" class="fg"/><text class="tg" x="1976" y="2814.4">5.解题都有固定的套路。</text></g>
<g id="g14a"><rect x="2148" y="2752" width="277" height="47" rx="5" class="fg"/>
<text class="tg"><tspan x="2156" y="2772.4">6还有大胆的夸奖自己，那是树立信心的关键</tspan><tspan x="2156" dy="16.8">时刻。</tspan></text></g>
<g id="g14b"><rect x="2148" y="2827" width="69" height="30" rx="5" class="fg"/><text class="tg" x="2156" y="2847.4">五.总结。</text></g>
<g id="g15"><rect x="1968" y="2885" width="277" height="64" rx="5" class="fg"/>
<text class="tg"><tspan x="1976" y="2905.4">1.要将所学的知识变成知识网，从大主干到分</tspan><tspan x="1976" dy="16.8">枝，清晰地深存在脑中，新题想到老题，从而</tspan><tspan x="1976" dy="16.8">一通百通。</tspan></text></g>
<g id="g16"><rect x="1968" y="2978" width="277" height="81" rx="5" class="fg"/>
<text class="tg"><tspan x="1976" y="2998.4">2.建立错误集，错误多半会错上两次，在有意</tspan><tspan x="1976" dy="16.8">识改正的情况下，还有可能错下去，最有效的</tspan><tspan x="1976" dy="16.8">应该是会正确地做这道题，并在下次遇到同样</tspan><tspan x="1976" dy="16.8">情况时候有注意的意识。</tspan></text></g>
<g id="g17"><rect x="1968" y="3088" width="277" height="47" rx="5" class="fg"/>
<text class="tg"><tspan x="1976" y="3108.4">3.周末再将一周做的题回头看一番，提出每道</tspan><tspan x="1976" dy="16.8">题的思路方法。4有问题一定要问。</tspan></text></g>
<g id="g17a"><rect x="2269" y="3097" width="95" height="30" rx="5" class="fg"/><text class="tg" x="2277" y="3117.4">六.考前复习。</text></g>
<g id="g18"><rect x="1968" y="3163" width="277" height="98" rx="5" class="fg"/>
<text class="tg"><tspan x="1976" y="3183.4">1.前2周就要开始复习，做到心中有数，否则</tspan><tspan x="1976" dy="16.8">会影响发挥，再做一遍以前的错题是十分必要</tspan><tspan x="1976" dy="16.8">的，据说有一个同学平时只有一百零几，离高</tspan><tspan x="1976" dy="16.8">考只有一个月，把以前错题从头做一遍，最后</tspan><tspan x="1976" dy="16.8">他数学居然得了147分。</tspan></text></g>
<g id="g19"><rect x="1968" y="3332" width="89" height="30" rx="5" class="fg"/><text class="tg" x="1976" y="3352.4">2.要重视基础</text></g>
<g id="g19a"><rect x="2082" y="3289" width="277" height="115" rx="5" class="fg"/>
<text class="tg"><tspan x="2090" y="3309.4">另外，听老师的话，勤学苦练不可少，成功没</tspan><tspan x="2090" dy="16.8">有捷径，要乐观，有毅力，要有决心，还要有</tspan><tspan x="2090" dy="16.8">耐心，学数学是一个很长的过程，你的努力于</tspan><tspan x="2090" dy="16.8">回报往往不能那么尽如人意的成正比，甚至会</tspan><tspan x="2090" dy="16.8">有下坡路的趋势，但只要坚持下去，那条成绩</tspan><tspan x="2090" dy="16.8">线会抬起头来，一定能看到光明。</tspan></text></g>
</svg>
